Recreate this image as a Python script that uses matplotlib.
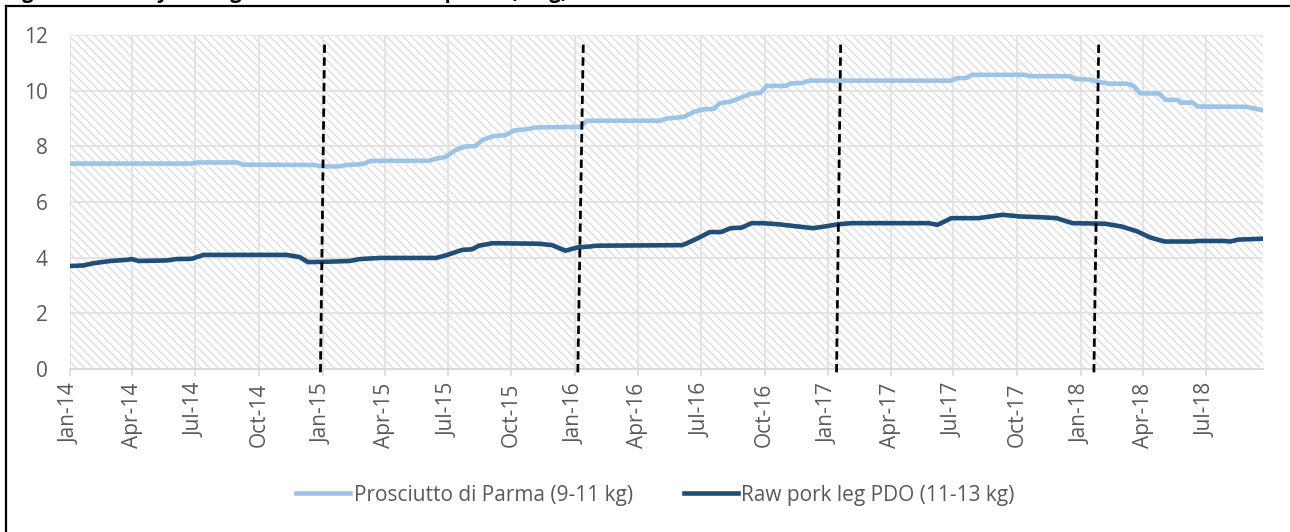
import matplotlib
matplotlib.use("Agg")
import matplotlib.pyplot as plt
import matplotlib.dates as mdates
from matplotlib.patches import Rectangle
from matplotlib.lines import Line2D
import pandas as pd

# Prosciutto di Parma (9-11 kg), EUR/kg
parma_dates = [
    "2014-01-01", "2014-06-25", "2014-07-05", "2014-08-30", "2014-09-08",
    "2014-12-20", "2015-01-01", "2015-01-25", "2015-02-05", "2015-02-28",
    "2015-03-12", "2015-06-04", "2015-06-15", "2015-06-28", "2015-07-12",
    "2015-07-25", "2015-08-10", "2015-08-20", "2015-09-05", "2015-09-22",
    "2015-10-05", "2015-10-25", "2015-11-05", "2016-01-08", "2016-01-18",
    "2016-05-03", "2016-05-13", "2016-06-05", "2016-06-22", "2016-07-05",
    "2016-07-20", "2016-07-28", "2016-08-12", "2016-08-25", "2016-09-10",
    "2016-09-25", "2016-10-04", "2016-10-31", "2016-11-08", "2016-11-25",
    "2016-12-05", "2017-06-27", "2017-07-05", "2017-07-20", "2017-07-28",
    "2017-10-11", "2017-10-22", "2017-12-16", "2017-12-24", "2018-01-15",
    "2018-01-25", "2018-02-11", "2018-03-10", "2018-03-18", "2018-03-28",
    "2018-04-24", "2018-05-04", "2018-05-21", "2018-05-26", "2018-06-12",
    "2018-06-19", "2018-08-28", "2018-09-21",
]
parma_values = [
    7.38, 7.38, 7.42, 7.42, 7.34,
    7.33, 7.28, 7.28, 7.33, 7.36,
    7.48, 7.48, 7.56, 7.62, 7.86,
    7.99, 8.01, 8.23, 8.37, 8.40,
    8.57, 8.62, 8.68, 8.70, 8.92,
    8.92, 9.00, 9.05, 9.25, 9.33,
    9.35, 9.55, 9.60, 9.72, 9.88,
    9.92, 10.17, 10.17, 10.26, 10.28,
    10.36, 10.36, 10.44, 10.46, 10.57,
    10.57, 10.52, 10.52, 10.42, 10.40,
    10.32, 10.25, 10.25, 10.17, 9.90,
    9.90, 9.67, 9.67, 9.57, 9.57,
    9.43, 9.42, 9.30,
]

# Raw pork leg PDO (11-13 kg), EUR/kg
leg_dates = [
    "2014-01-01", "2014-01-20", "2014-02-04", "2014-02-28", "2014-03-24",
    "2014-03-31", "2014-04-10", "2014-05-21", "2014-06-04", "2014-06-26",
    "2014-07-13", "2014-11-10", "2014-11-29", "2014-12-11", "2015-01-02",
    "2015-02-09", "2015-02-24", "2015-03-25", "2015-06-14", "2015-06-28",
    "2015-07-22", "2015-08-05", "2015-08-15", "2015-09-04", "2015-11-10",
    "2015-11-29", "2015-12-18", "2016-01-05", "2016-01-22", "2016-02-01",
    "2016-06-04", "2016-06-11", "2016-06-24", "2016-07-14", "2016-07-30",
    "2016-08-13", "2016-08-29", "2016-09-12", "2016-09-28", "2016-10-21",
    "2016-11-04", "2016-12-10", "2016-12-27", "2017-01-15", "2017-02-04",
    "2017-05-26", "2017-06-08", "2017-06-28", "2017-08-06", "2017-09-10",
    "2017-10-05", "2017-11-07", "2017-11-27", "2017-12-20", "2018-02-05",
    "2018-03-01", "2018-03-23", "2018-04-12", "2018-05-02", "2018-06-11",
    "2018-06-20", "2018-07-28", "2018-08-05", "2018-08-17", "2018-09-21",
]
leg_values = [
    3.70, 3.72, 3.80, 3.88, 3.92,
    3.95, 3.88, 3.90, 3.95, 3.96,
    4.10, 4.10, 4.02, 3.84, 3.85,
    3.88, 3.95, 3.99, 3.99, 4.08,
    4.28, 4.30, 4.43, 4.52, 4.50,
    4.45, 4.25, 4.37, 4.40, 4.43,
    4.45, 4.52, 4.67, 4.92, 4.92,
    5.06, 5.08, 5.24, 5.24, 5.20,
    5.16, 5.06, 5.12, 5.20, 5.24,
    5.24, 5.18, 5.42, 5.42, 5.54,
    5.48, 5.45, 5.42, 5.24, 5.22,
    5.12, 4.95, 4.72, 4.58, 4.58,
    4.60, 4.60, 4.58, 4.65, 4.68,
]

# hand-drawn dashed markers (slightly slanted in the original)
marker_top = ["2015-01-04", "2016-01-13", "2017-01-19", "2018-01-27"]
marker_bottom = ["2014-12-29", "2016-01-05", "2017-01-13", "2018-01-20"]

series_names = ["Prosciutto di Parma (9-11 kg)", "Raw pork leg PDO (11-13 kg)"]
series_colors = ["#9DC3E6", "#1F4E79"]

plt.rcParams["font.family"] = ["Open Sans", "DejaVu Sans"]
plt.rcParams["hatch.linewidth"] = 0.75

fig = plt.figure(figsize=(12.9, 5.32), dpi=100)
ax = fig.add_axes([70 / 1290, 163 / 532, 1192.7 / 1290, 334 / 532])

x_start = pd.Timestamp("2014-01-01")
x_end = pd.Timestamp("2018-09-21")
ax.set_xlim(x_start, x_end)
ax.set_ylim(0, 12)

# hatched plot area
ax.add_patch(Rectangle((0, 0), 1, 1, transform=ax.transAxes, facecolor="white",
                       edgecolor="#d6d6d6", hatch="\\\\\\\\", lw=0, zorder=0))

ax.plot(pd.to_datetime(parma_dates), parma_values, color=series_colors[0],
        lw=3.3, solid_capstyle="round", zorder=3)
ax.plot(pd.to_datetime(leg_dates), leg_values, color=series_colors[1],
        lw=3.3, solid_capstyle="round", zorder=3)

for t, b in zip(marker_top, marker_bottom):
    ax.plot([pd.Timestamp(b), pd.Timestamp(t)], [-0.12, 11.8], color="black",
            lw=2.0, dashes=(3.0, 1.6), clip_on=False, zorder=4)

ticks = pd.date_range("2014-01-01", "2018-07-01", freq="QS")
ax.set_xticks(ticks)
ax.xaxis.set_major_formatter(mdates.DateFormatter("%b-%y"))
ax.set_yticks(range(0, 13, 2))
ax.grid(True, color="#e0e0e0", lw=1.2, zorder=1)
ax.set_axisbelow(True)

for s in ["top", "right", "left"]:
    ax.spines[s].set_visible(False)
ax.spines["bottom"].set_color("#d9d9d9")
ax.spines["bottom"].set_linewidth(1.3)

ax.tick_params(axis="x", length=5, width=1.2, color="#d9d9d9", pad=5,
               labelsize=15, labelcolor="#595959", labelrotation=90)
ax.tick_params(axis="y", length=0, pad=16, labelsize=15, labelcolor="#595959")

handles = [Line2D([], [], color=c, lw=3.3) for c in series_colors]
fig.legend(handles, series_names, loc="center", bbox_to_anchor=(0.508, 0.0695),
           ncol=2, frameon=False, fontsize=15, handlelength=2.6,
           handletextpad=0.15, columnspacing=2.45, labelcolor="#595959")

# outer frame of the chart box
fig.add_artist(Line2D([6 / 1290, 6 / 1290], [0, 1 - 6 / 532], color="black",
                      lw=1.6, transform=fig.transFigure))
fig.add_artist(Line2D([6 / 1290, 1], [1 - 6 / 532, 1 - 6 / 532], color="black",
                      lw=1.6, transform=fig.transFigure))

# caption above the box, mostly cut off in the original
fig.text(5 / 1290, 1 + 2 / 532, "Figure 1: Weekly average wholesale market prices (€/kg)",
         fontsize=14.5, fontweight="bold", va="baseline", ha="left")

fig.savefig("out.png", dpi=100)
